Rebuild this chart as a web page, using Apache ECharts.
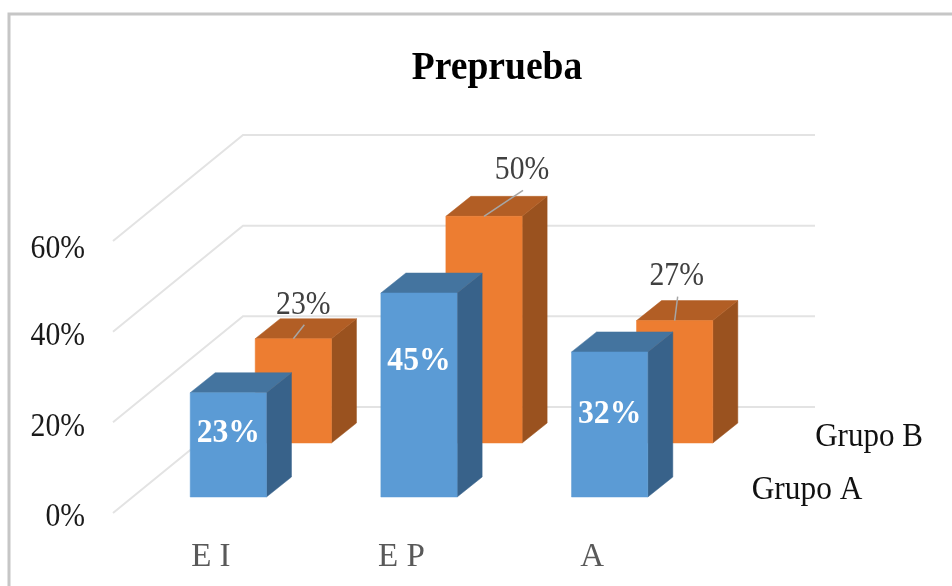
<!DOCTYPE html>
<html><head><meta charset="utf-8">
<style>html,body{margin:0;padding:0;background:#fff}#c{width:952px;height:586px}</style>
<script src="https://cdn.jsdelivr.net/npm/echarts@6/dist/echarts.min.js"></script>
</head><body><div id="c"></div>
<script>
var categories = ['E I', 'E P', 'A'];
var grupoA = [23, 45, 32];
var grupoB = [23, 50, 27];
var yTicks = [0, 20, 40, 60];
var seriesNames = ['Grupo A', 'Grupo B'];
var chartTitle = 'Preprueba';

// Oblique projection (pixels): depth of the wall, of each row and of each box
var FONT = '"Liberation Serif","Times New Roman",serif';
var WALL = [130, -106];
var ROW_A = [20, -16];
var ROW_B = [85, -70];
var BOX = [25, -20];
// Label placement relative to the bar / tick
var insideDy = [38, 66, 60];
var outsideLabel = [[10, -36], [38, -49], [2, -47]];
var outsideLine = [[11, -14], [39, -26], [3, -24]];
var tickLabelDy = [2, 2, 2, 6];

function poly(points, fill) {
  return { type: 'polygon', shape: { points: points }, style: { fill: fill, stroke: fill, lineWidth: 0.5 } };
}
function box(api, row, colors) {
  var base = api.coord([api.value(0), 0]);
  var top = api.coord([api.value(0), api.value(1)]);
  var w = api.size([1, 0])[0] * 0.4;
  var l = base[0] + row[0] - w / 2, r = l + w;
  var b = base[1] + row[1], t = top[1] + row[1];
  var d = BOX;
  return {
    l: l, r: r, t: t, b: b, w: w,
    faces: [
      poly([[r, t], [r + d[0], t + d[1]], [r + d[0], b + d[1]], [r, b]], colors[2]),
      poly([[l, t], [l + d[0], t + d[1]], [r + d[0], t + d[1]], [r, t]], colors[1]),
      poly([[l, t], [r, t], [r, b], [l, b]], colors[0])
    ]
  };
}
function text(x, y, str, fill, size, scaleX, weight, align) {
  return { type: 'text', x: x, y: y + 2.5, scaleX: scaleX, silent: true,
    style: { text: str, x: 0, y: 0, fill: fill, font: (weight || 'normal') + ' ' + size + 'px ' + FONT, align: align || 'center', verticalAlign: 'middle' } };
}
function pairs(arr) { return arr.map(function (v, i) { return [i, v]; }); }

var option = {
  animation: false,
  tooltip: { show: false },
  grid: { left: 113, width: 572, top: 241, height: 272 },
  graphic: [
    { type: 'polyline', silent: true, shape: { points: [[9, 600], [9, 14], [960, 14]] }, style: { fill: null, stroke: '#c6c6c6', lineWidth: 3 } },
    text(497, 66, chartTitle, '#000', 40, 0.94, 'bold'),
    text(807, 488, seriesNames[0], '#111', 33, 0.95),
    text(869, 435, seriesNames[1], '#111', 33, 0.94)
  ],
  xAxis: {
    type: 'category', data: categories,
    axisLine: { show: false }, axisTick: { show: false }, splitLine: { show: false },
    axisLabel: { margin: 28, color: '#595959', fontFamily: FONT, fontSize: 33, padding: [0, 0, 0, 5] }
  },
  yAxis: {
    type: 'value', min: 0, max: 60, interval: 20,
    axisLine: { show: false }, axisTick: { show: false }, splitLine: { show: false },
    axisLabel: { show: false }
  },
  series: [
    {
      type: 'custom', z: 1, silent: true,
      data: yTicks.map(function (v) { return [0, v]; }),
      encode: { x: 0, y: 1 },
      renderItem: function (params, api) {
        var cs = params.coordSys;
        var v = api.value(1);
        var y = api.coord([0, v])[1];
        return {
          type: 'group',
          children: [
            {
              type: 'polyline',
              shape: { points: [[cs.x, y], [cs.x + WALL[0], y + WALL[1]], [cs.x + WALL[0] + cs.width, y + WALL[1]]] },
              style: { fill: null, stroke: '#e3e3e3', lineWidth: 2 }
            },
            text(cs.x - 28, y + tickLabelDy[params.dataIndex], v + '%', '#1a1a1a', 33, 0.9, null, 'right')
          ]
        };
      }
    },
    {
      type: 'custom', name: seriesNames[1], z: 2, silent: true,
      data: pairs(grupoB), encode: { x: 0, y: 1 },
      renderItem: function (params, api) {
        var i = params.dataIndex;
        var g = box(api, ROW_B, ['#ED7D31', '#B25E25', '#9A521F']);
        var cx = g.l + g.w / 2;
        var ch = g.faces.slice();
        ch.push({ type: 'line', shape: { x1: cx, y1: g.t, x2: cx + outsideLine[i][0], y2: g.t + outsideLine[i][1] }, style: { stroke: '#a6a6a6', lineWidth: 1.5 } });
        ch.push(text(cx + outsideLabel[i][0], g.t + outsideLabel[i][1], api.value(1) + '%', '#404040', 33, 0.9));
        return { type: 'group', children: ch };
      }
    },
    {
      type: 'custom', name: seriesNames[0], z: 3, silent: true,
      data: pairs(grupoA), encode: { x: 0, y: 1 },
      renderItem: function (params, api) {
        var i = params.dataIndex;
        var g = box(api, ROW_A, ['#5B9BD5', '#44749F', '#38628A']);
        var ch = g.faces.slice();
        ch.push(text(g.l + g.w / 2, g.t + insideDy[i], api.value(1) + '%', '#fff', 33, 0.96, 'bold'));
        return { type: 'group', children: ch };
      }
    }
  ]
};
echarts.init(document.getElementById('c'), null, { renderer: 'canvas' }).setOption(option);
</script></body></html>
